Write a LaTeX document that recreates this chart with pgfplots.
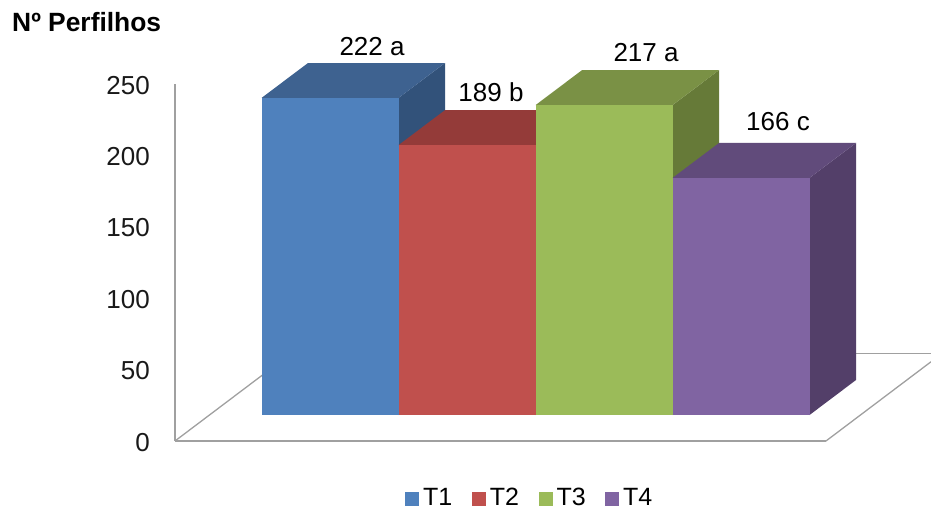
\documentclass[border=0pt]{standalone}
\usepackage{pgfplots}
\pgfplotsset{compat=1.18}
\usepackage{fontspec}
\setmainfont{Liberation Sans}
\definecolor{wallgray}{HTML}{A0A0A0}
\definecolor{blueF}{HTML}{4F81BD}\definecolor{blueT}{HTML}{3E6290}\definecolor{blueS}{HTML}{32527A}
\definecolor{redF}{HTML}{C0504D}\definecolor{redT}{HTML}{943B39}\definecolor{redS}{HTML}{7E3230}
\definecolor{greenF}{HTML}{9BBB59}\definecolor{greenT}{HTML}{7A9145}\definecolor{greenS}{HTML}{667A38}
\definecolor{purpleF}{HTML}{8064A2}\definecolor{purpleT}{HTML}{614B7B}\definecolor{purpleS}{HTML}{533F69}
\pgfplotsset{
  chartframe/.style={
    scale only axis, width=651pt, height=357pt,
    xmin=-0.1314, xmax=4.6204, clip=false,
  },
  face/.style={draw=none, fill=#1, forget plot},
  frontbar/.style={
    ybar, bar width=137pt, bar shift=0pt, draw=none, fill=#1,
    legend image code/.code={\fill[#1] (0pt,0pt) rectangle (14pt,14pt); \path (16pt,0pt);},
  },
}
\newcommand{\lblfont}{\fontsize{26}{26}\selectfont}
\begin{document}
\begin{tikzpicture}
\path[use as bounding box] (-175pt,-69pt) rectangle (756pt,441pt);
% Wall, floor and value scale
\begin{axis}[
  chartframe, ymin=0, ymax=250,
  axis lines=left, axis line style={-, wallgray, line width=1.6pt},
  xtick=\empty, ytick={0,50,100,150,200,250},
  major tick length=0pt,
  /pgf/number format/assume math mode=true,
  yticklabel style={font=\lblfont, anchor=east, inner sep=0pt, xshift=-25pt, yshift=-1.2pt, text=black!90},
]
\addplot[wallgray, line width=1.3pt] coordinates {(-0.1314,0) (0.72,61.6)};
\addplot[wallgray, line width=1.3pt] coordinates {(0.72,61.4) (5.387,61.4)};
\addplot[wallgray, line width=1.3pt] coordinates {(4.6204,0) (5.387,55.5)};
\end{axis}
% Blocks, standing on the floor 26 px above its front edge
\begin{axis}[
  chartframe, ymin=-18.2, ymax=231.8, hide axis,
  legend columns=4,
  legend style={
    at={(0.545,-0.159)}, anchor=center, draw=none, fill=none,
    font=\fontsize{25}{25}\selectfont, inner sep=0pt,
    /tikz/every even column/.append style={column sep=17.5pt},
    nodes={anchor=base west},
  },
]
% T1
\addplot[face=blueS] coordinates {(1.5,0) (1.8394,24.5) (1.8394,246.5) (1.5,222)} -- cycle;
\addplot[face=blueT] coordinates {(0.5,222) (0.8394,246.5) (1.8394,246.5) (1.5,222)} -- cycle;
\addplot[frontbar=blueF] coordinates {(1,222)};
\addlegendentry{T1}
% T2
\addplot[face=redS] coordinates {(2.5,0) (2.8394,24.5) (2.8394,213.5) (2.5,189)} -- cycle;
\addplot[face=redT] coordinates {(1.5,189) (1.8394,213.5) (2.8394,213.5) (2.5,189)} -- cycle;
\addplot[frontbar=redF] coordinates {(2,189)};
\addlegendentry{T2}
% T3
\addplot[face=greenS] coordinates {(3.5,0) (3.8394,24.5) (3.8394,241.5) (3.5,217)} -- cycle;
\addplot[face=greenT] coordinates {(2.5,217) (2.8394,241.5) (3.8394,241.5) (3.5,217)} -- cycle;
\addplot[frontbar=greenF] coordinates {(3,217)};
\addlegendentry{T3}
% T4
\addplot[face=purpleS] coordinates {(4.5,0) (4.8394,24.5) (4.8394,190.5) (4.5,166)} -- cycle;
\addplot[face=purpleT] coordinates {(3.5,166) (3.8394,190.5) (4.8394,190.5) (4.5,166)} -- cycle;
\addplot[frontbar=purpleF] coordinates {(4,166)};
\addlegendentry{T4}
% Values with their significance letters
\node[font=\lblfont] at (axis cs:1.307,257.7) {222 a};
\node[font=\lblfont] at (axis cs:2.175,226.2) {189 b};
\node[font=\lblfont] at (axis cs:3.307,253.5) {217 a};
\node[font=\lblfont] at (axis cs:4.27,205.2) {166 c};
\end{axis}
\node[anchor=base west, inner sep=0pt, font=\fontsize{26.4}{27}\selectfont\bfseries] at (-163pt,409.5pt) {Nº Perfilhos};
\end{tikzpicture}
\end{document}
